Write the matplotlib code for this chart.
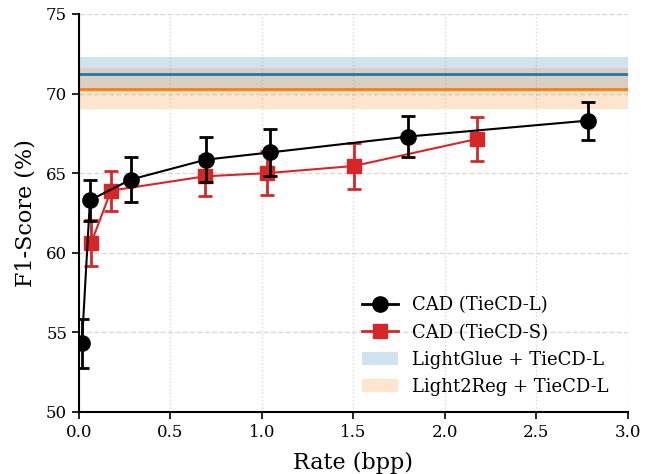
import matplotlib
matplotlib.use("Agg")
import matplotlib.pyplot as plt
from matplotlib.patches import Patch
from matplotlib.lines import Line2D

plt.rcParams['font.family'] = 'DejaVu Serif'

# CAD (TieCD-L)
rate_l = [0.016, 0.06, 0.284, 0.694, 1.044, 1.80, 2.78]
f1_l = [54.3, 63.3, 64.6, 65.85, 66.3, 67.3, 68.3]
err_l = [1.55, 1.3, 1.4, 1.4, 1.45, 1.3, 1.2]

# CAD (TieCD-S)
rate_s = [0.066, 0.175, 0.689, 1.027, 1.503, 2.175]
f1_s = [60.6, 63.9, 64.8, 65.0, 65.45, 67.15]
err_s = [1.45, 1.25, 1.25, 1.4, 1.45, 1.4]

# baselines (mean, std)
lightglue = (71.2, 1.1)
light2reg = (70.3, 1.3)

fig = plt.figure(figsize=(6.5, 4.74), dpi=100)
ax = fig.add_axes([0.1215, 0.131, 0.8445, 0.8395])

ax.axhspan(lightglue[0] - lightglue[1], lightglue[0] + lightglue[1], color='#1f77b4', alpha=0.2, lw=0)
ax.axhline(lightglue[0], color='#1f77b4', lw=2)
ax.axhspan(light2reg[0] - light2reg[1], light2reg[0] + light2reg[1], color='#ff7f0e', alpha=0.2, lw=0)
ax.axhline(light2reg[0], color='#ff7f0e', lw=2)

ax.errorbar(rate_l, f1_l, yerr=err_l, color='black', marker='o', ms=11, lw=1.5,
            elinewidth=2, capsize=5, capthick=2, zorder=4)
ax.errorbar(rate_s, f1_s, yerr=err_s, color='#d62728', marker='s', ms=10, lw=1.5,
            elinewidth=2, capsize=5, capthick=2, zorder=3)

ax.set_xlim(0, 3.0)
ax.set_ylim(50, 75)
ax.set_xticks([0, 0.5, 1.0, 1.5, 2.0, 2.5, 3.0])
ax.set_yticks([50, 55, 60, 65, 70, 75])
ax.tick_params(labelsize=12, width=1.2, length=5)
ax.set_xlabel('Rate (bpp)', fontsize=16, labelpad=8)
ax.set_ylabel('F1-Score (%)', fontsize=16, labelpad=7)

ax.grid(axis='y', ls='--', color='#d8d8d8', lw=1)
ax.grid(axis='x', ls=':', color='#d8d8d8', lw=1)
ax.set_axisbelow(True)
for s in ['top', 'right']:
    ax.spines[s].set_visible(False)
for s in ['left', 'bottom']:
    ax.spines[s].set_linewidth(1.5)

handles = [
    Line2D([], [], color='black', marker='o', ms=11, lw=2),
    Line2D([], [], color='#d62728', marker='s', ms=10, lw=2),
    Patch(facecolor='#1f77b4', alpha=0.2),
    Patch(facecolor='#ff7f0e', alpha=0.2),
]
labels = ['CAD (TieCD-L)', 'CAD (TieCD-S)', 'LightGlue + TieCD-L', 'Light2Reg + TieCD-L']
ax.legend(handles, labels, loc='lower right', fontsize=13, frameon=False,
          bbox_to_anchor=(0.995, 0.0))

fig.savefig('out.png', dpi=100)
